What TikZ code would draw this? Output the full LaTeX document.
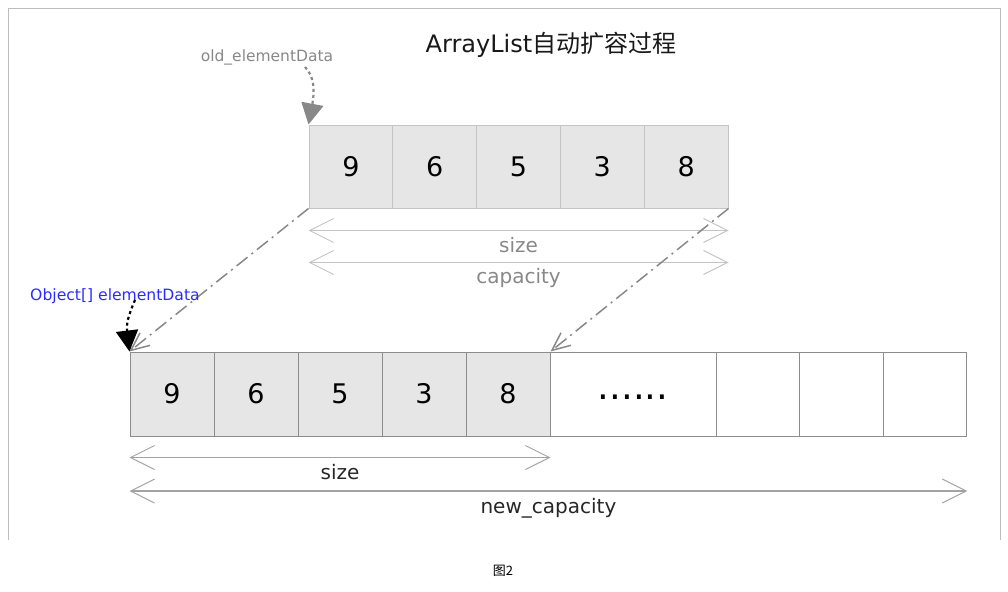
\documentclass[tikz,border=0pt]{standalone}
\usepackage{fontspec}
\setmainfont{DejaVu Sans}
\newfontfamily\cjk{Noto Sans CJK SC}
\usetikzlibrary{arrows.meta}
\definecolor{cellfill}{HTML}{E6E6E6}
\definecolor{oldline}{HTML}{C4C4C4}
\definecolor{newline}{HTML}{8C8C8C}
\definecolor{framegray}{HTML}{BDBDBD}
\definecolor{labelgray}{HTML}{888888}
\definecolor{ptrblue}{HTML}{2B2BFF}
\tikzset{
  oldcell/.style={draw=oldline, line width=1pt, fill=cellfill, minimum width=83.8pt,
    minimum height=83pt, inner sep=0pt, font=\fontsize{27}{27}\selectfont},
  newcell/.style={draw=newline, line width=1pt, fill=cellfill, minimum width=84pt,
    minimum height=84pt, inner sep=0pt, font=\fontsize{27}{27}\selectfont},
  emptycell/.style={newcell, fill=white, minimum width=83.7pt},
  dimtop/.style={draw=oldline, line width=1pt,
    {Straight Barb[length=24pt,width=24pt,line width=1pt]}-{Straight Barb[length=24pt,width=24pt,line width=1pt]}},
  dimbot/.style={draw=newline!80, line width=1.2pt,
    {Straight Barb[length=24pt,width=24pt,line width=1pt]}-{Straight Barb[length=24pt,width=24pt,line width=1pt]}},
  copyline/.style={draw=labelgray, line width=1.5pt,
    dash pattern=on 14pt off 5pt on 2pt off 5pt, -{Straight Barb[length=18pt,width=16pt]}},
  ptrline/.style={line width=2.2pt, dash pattern=on 3pt off 3pt,
    -{Triangle[length=21pt,width=22pt]}},
  dimlabel/.style={font=\fontsize{20}{20}\selectfont}
}
\begin{document}
\begin{tikzpicture}[x=1pt,y=-1pt]
\useasboundingbox (0,0) rectangle (1008,591);
\draw[framegray] (8,540) -- (8,8) -- (1000,8) -- (1000,540);
\node[font=\fontsize{24}{24}\selectfont, text=black!90] (title) at (551,45) {ArrayList{\cjk 自动扩容过程}};
% old array
\foreach \v [count=\i] in {9,6,5,3,8}
  \node[oldcell] (o\i) at ({309+41.9+83.8*(\i-1)},166.5) {\v};
% new array
\foreach \v [count=\i] in {9,6,5,3,8}
  \node[newcell] (n\i) at ({130+42+84*(\i-1)},394) {\v};
\node[newcell, fill=white, minimum width=166pt, text height=10.4pt, text depth=0pt,
  font=\fontsize{37}{37}\selectfont] (dots) at (633,394) {......};
\foreach \x [count=\i] in {758,841.5,925}
  \node[emptycell] (e\i) at (\x,394) {};
% sizes of the old array
\coordinate (osl) at ([yshift=-22pt]o1.south west);
\coordinate (osr) at ([yshift=-22pt]o5.south east);
\coordinate (ocl) at ([yshift=-54pt]o1.south west);
\coordinate (ocr) at ([yshift=-54pt]o5.south east);
\draw[dimtop] (osl) -- (osr) node[midway, yshift=-15pt, dimlabel, text=labelgray] {size};
\draw[dimtop] (ocl) -- (ocr) node[midway, yshift=-15pt, dimlabel, text=labelgray] {capacity};
% sizes of the new array
\coordinate (nsl) at ([yshift=-21pt]n1.south west);
\coordinate (nsr) at ([yshift=-21pt]n5.south east);
\coordinate (ncl) at ([yshift=-54.5pt]n1.south west);
\coordinate (ncr) at ([yshift=-54.5pt]e3.south east);
\draw[dimbot] (nsl) -- (nsr) node[midway, yshift=-15pt, dimlabel, text=black!85] {size};
\draw[dimbot, line width=2pt] (ncl) -- (ncr) node[midway, yshift=-17pt, dimlabel, text=black!85] {new\_capacity};
% copy
\draw[copyline] (o1.south west) -- (n1.north west);
\draw[copyline] (o5.south east) -- (n5.north east);
% pointers
\node[font=\fontsize{15.5}{15.5}\selectfont, text=labelgray] (oldptr) at (267,57) {old\_elementData};
\draw[ptrline, draw=labelgray] ([xshift=38pt,yshift=-10pt]oldptr.center)
  .. controls (314,76) and (315,90) .. (o1.north west);
\node[font=\fontsize{15.6}{15.6}\selectfont, text=ptrblue] (newptr) at (115,296) {Object[] elementData};
\draw[ptrline, draw=black] ([xshift=20pt,yshift=-4pt]newptr.center)
  .. controls (130,312) and (126,322) .. (n1.north west);
\node[font=\cjk\fontsize{13}{13}\selectfont] (caption) at (503,571) {图2};
\end{tikzpicture}
\end{document}
